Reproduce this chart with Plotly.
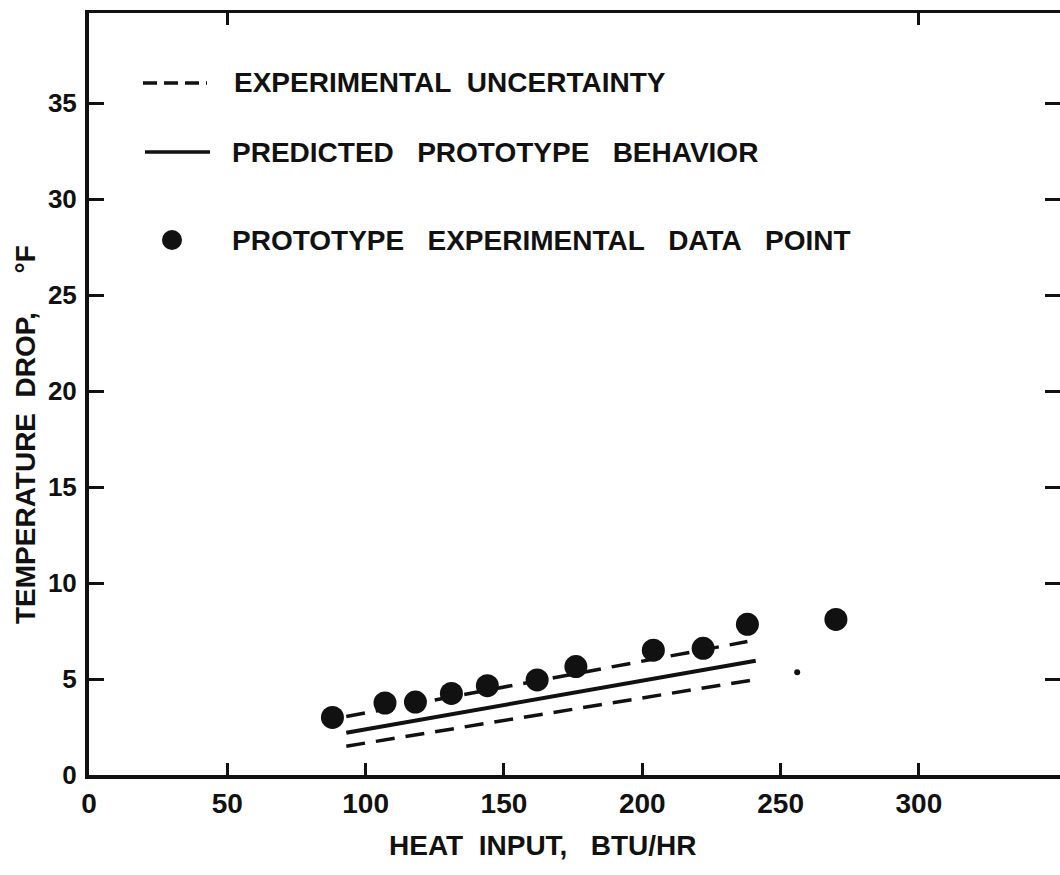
import plotly.graph_objects as go

# ---- data ----
heat_input = [88, 107, 118, 131, 144, 162, 176, 204, 222, 238, 270]
temp_drop = [3.0, 3.75, 3.8, 4.25, 4.65, 4.95, 5.65, 6.5, 6.6, 7.85, 8.1]

predicted_x = [93, 241]
predicted_y = [2.2, 5.95]
upper_x = [93, 238]
upper_y = [3.05, 6.95]
lower_x = [93, 242]
lower_y = [1.5, 5.0]

speck_x = [256]
speck_y = [5.35]

x_ticks = [0, 50, 100, 150, 200, 250, 300]
y_ticks = [0, 5, 10, 15, 20, 25, 30, 35]
top_ticks = [50, 300]
right_ticks = [5, 10, 15, 20, 25, 30, 35]

legend_labels = [
    "EXPERIMENTAL\u00a0\u00a0UNCERTAINTY",
    "PREDICTED\u00a0\u00a0\u00a0PROTOTYPE\u00a0\u00a0\u00a0BEHAVIOR",
    "PROTOTYPE\u00a0\u00a0\u00a0EXPERIMENTAL\u00a0\u00a0\u00a0DATA\u00a0\u00a0\u00a0POINT",
]
x_title = "HEAT\u00a0\u00a0INPUT,\u00a0\u00a0\u00a0BTU/HR"
y_title = "TEMPERATURE\u00a0\u00a0DROP,\u00a0\u00a0\u00a0\u00a0\u00a0°F"

# ---- style ----
INK = "#111111"
FONT = "Liberation Sans"
W, H = 1060, 875
ML, MR, MT, MB = 89, 0, 13, 100
X_RANGE = [0, 351]
Y_RANGE = [0, 39.69]
DASH = "19px,11px"

pw = W - ML - MR
ph = H - MT - MB


def px(xp):
    return (xp - ML) / pw


def py(yp):
    return (H - MB - yp) / ph


fig = go.Figure()

fig.add_trace(go.Scatter(x=upper_x, y=upper_y, mode="lines",
                         line=dict(color=INK, width=3.5, dash=DASH), showlegend=False))
fig.add_trace(go.Scatter(x=lower_x, y=lower_y, mode="lines",
                         line=dict(color=INK, width=3.5, dash=DASH), showlegend=False))
fig.add_trace(go.Scatter(x=predicted_x, y=predicted_y, mode="lines",
                         line=dict(color=INK, width=4), showlegend=False))
fig.add_trace(go.Scatter(x=heat_input, y=temp_drop, mode="markers",
                         marker=dict(color=INK, size=23, line=dict(width=0)), showlegend=False))
fig.add_trace(go.Scatter(x=speck_x, y=speck_y, mode="markers", xaxis="x2", yaxis="y2",
                         marker=dict(color=INK, size=6, line=dict(width=0)), showlegend=False))

bold = dict(family=FONT, color=INK, weight="bold")

fig.update_layout(
    width=W, height=H,
    margin=dict(l=ML, r=MR, t=MT, b=MB, pad=0),
    paper_bgcolor="white", plot_bgcolor="white",
    showlegend=False,
    xaxis=dict(range=X_RANGE, tickvals=x_ticks, ticks="inside", ticklen=12, tickwidth=3,
               tickcolor=INK, showline=True, linewidth=4, linecolor=INK, mirror=False,
               showgrid=False, zeroline=False, tickfont=dict(size=28, **bold),
               ticklabelstandoff=0),
    yaxis=dict(range=Y_RANGE, tickvals=y_ticks, ticks="inside", ticklen=15, tickwidth=3,
               tickcolor=INK, showline=True, linewidth=4, linecolor=INK, mirror=False,
               showgrid=False, zeroline=False, tickfont=dict(size=26, **bold),
               ticklabelstandoff=3),
    xaxis2=dict(range=X_RANGE, overlaying="x", side="top", tickvals=top_ticks,
                ticks="inside", ticklen=12, tickwidth=3, tickcolor=INK,
                showline=True, linewidth=3, linecolor=INK, showticklabels=False,
                showgrid=False, zeroline=False),
    yaxis2=dict(range=Y_RANGE, overlaying="y", side="right", tickvals=right_ticks,
                ticks="inside", ticklen=15, tickwidth=3, tickcolor=INK,
                showline=False, showticklabels=False, showgrid=False, zeroline=False),
)

# ---- hand-drawn style legend ----
shapes = [
    dict(type="line", xref="paper", yref="paper", x0=px(143), x1=px(207), y0=py(83), y1=py(83),
         line=dict(color=INK, width=3.5, dash="14px,7px")),
    dict(type="line", xref="paper", yref="paper", x0=px(145), x1=px(210), y0=py(152), y1=py(152),
         line=dict(color=INK, width=3.5)),
    dict(type="circle", xref="paper", yref="paper", x0=px(162), x1=px(182), y0=py(250), y1=py(230),
         fillcolor=INK, line=dict(color=INK, width=0)),
]
fig.update_layout(shapes=shapes)

ann = []
for lbl, ypix, xpix in zip(legend_labels, [83, 152, 240], [232, 230, 230]):
    ann.append(dict(text=lbl, xref="paper", yref="paper", x=px(xpix), y=py(ypix),
                    xanchor="left", yanchor="middle", showarrow=False,
                    font=dict(size=28, **bold)))

ann.append(dict(text=x_title, xref="paper", yref="paper", x=px(542), y=py(846),
                xanchor="center", yanchor="middle", showarrow=False,
                font=dict(size=28, **bold)))
ann.append(dict(text=y_title, xref="paper", yref="paper", x=px(25), y=py(435),
                xanchor="center", yanchor="middle", showarrow=False, textangle=-90,
                font=dict(size=28, **bold)))
fig.update_layout(annotations=ann)

fig.write_html("out.html")
